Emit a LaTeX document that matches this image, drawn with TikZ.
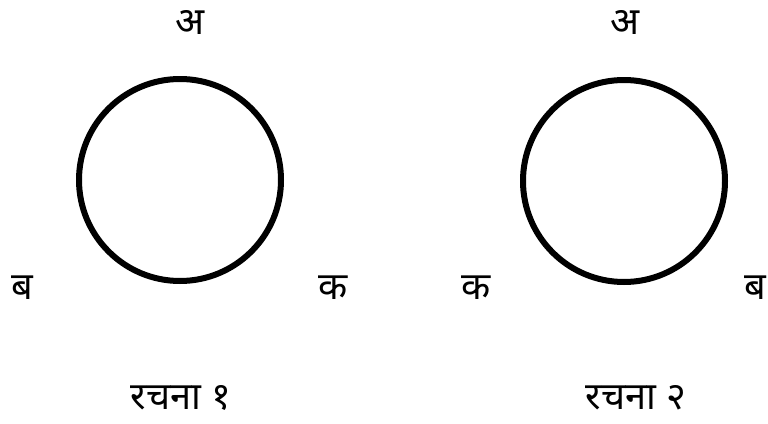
\documentclass[tikz,border=0pt]{standalone}
\usepackage{fontspec}
\newfontfamily\devfont[Script=Devanagari]{Noto Sans}
\begin{document}
\begin{tikzpicture}[x=1pt,y=-1pt,
  ring/.style={draw=black,line width=6pt,circle,minimum size=202pt,inner sep=0pt},
  lbl/.style={font=\devfont\fontsize{38}{44}\selectfont,inner sep=0pt,anchor=center}]
\useasboundingbox[fill=white] (0,0) rectangle (768,423);
\node[ring] (c1) at (180,180) {};
\node[ring] (c2) at (624,181) {};
\node[lbl] (a1) at (190,22) {अ};
\node[lbl] (b1) at (22,288) {ब};
\node[lbl] (k1) at (333,288) {क};
\node[lbl] (a2) at (625,22) {अ};
\node[lbl] (k2) at (476,288) {क};
\node[lbl] (b2) at (755,288) {ब};
\node[lbl] (r1) at (181,398) {रचना १};
\node[lbl] (r2) at (636,398) {रचना २};
\end{tikzpicture}
\end{document}
